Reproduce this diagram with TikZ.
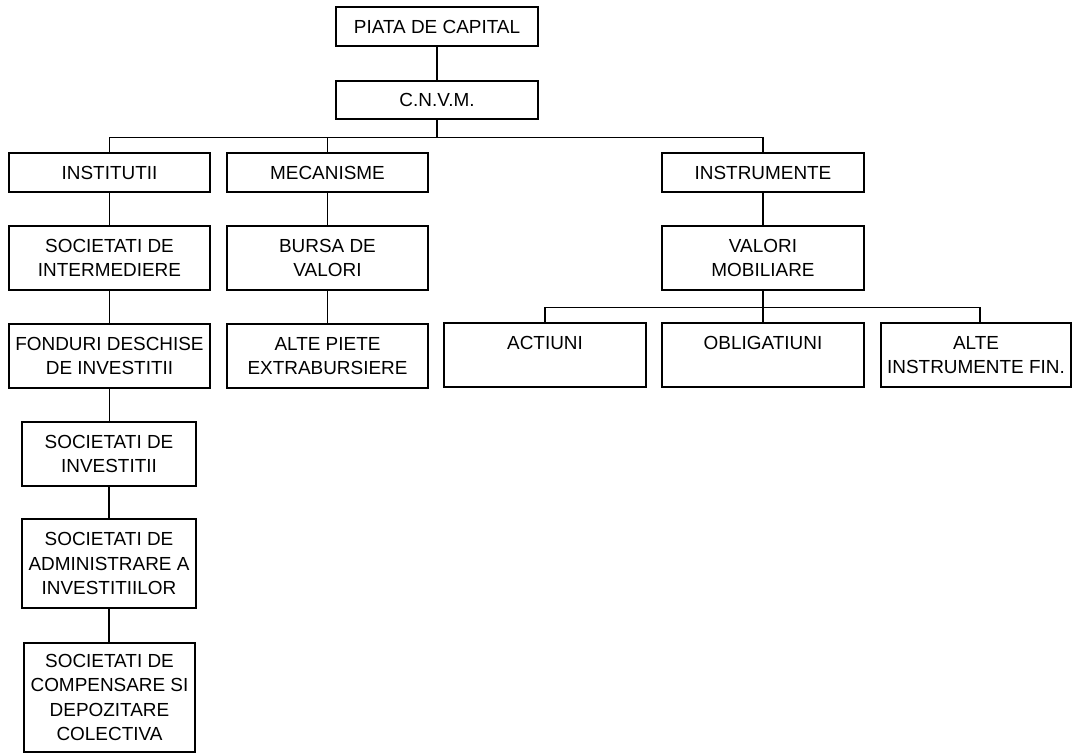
\documentclass[tikz,border=0pt]{standalone}
\usepackage{fontspec}
\setmainfont{Liberation Sans}
\begin{document}
\begin{tikzpicture}[x=0.75pt,y=-0.75pt,
  box/.style 2 args={draw, line width=0.9pt, inner sep=0pt, align=center,
    minimum width=#1*0.75pt, minimum height=#2*0.75pt,
    font=\fontsize{14.2}{18.4}\selectfont},
  link/.style={line width=0.9pt}]
\useasboundingbox (0,0) rectangle (1072,753);

% top of the hierarchy
\node[box={202}{39}] (piata) at (437,26.5) {PIATA DE CAPITAL};
\node[box={202}{38}] (cnvm)  at (437,100)  {C.N.V.M.};

% first level
\node[box={201}{39}] (inst)  at (109.5,172.5) {INSTITUTII};
\node[box={201}{39}] (mec)   at (327.5,172.5) {MECANISME};
\node[box={202}{39}] (instr) at (763,172.5)   {INSTRUMENTE};

% institutions column
\node[box={201}{64}] (socint) at (109.5,258) {SOCIETATI DE\\INTERMEDIERE};
\node[box={201}{64}] (fond)   at (109.5,356) {FONDURI DESCHISE\\DE INVESTITII};
\node[box={174}{64}] (socinv) at (109,454)   {SOCIETATI DE\\INVESTITII};
\node[box={174}{89}] (admin)  at (109,563.5) {SOCIETATI DE\\ADMINISTRARE A\\INVESTITIILOR};
\node[box={171}{109}] (comp)  at (109.5,697.5) {SOCIETATI DE\\COMPENSARE SI\\DEPOZITARE\\COLECTIVA};

% mechanisms column
\node[box={201}{64}] (bursa) at (327.5,258) {BURSA DE\\VALORI};
\node[box={201}{64}] (altep) at (327.5,356) {ALTE PIETE\\EXTRABURSIERE};

% instruments branch
\node[box={202}{64}] (valori)  at (763,258) {VALORI\\MOBILIARE};
\node[box={202}{64}] (actiuni) at (545,355) {ACTIUNI\\\mbox{}};
\node[box={202}{64}] (oblig)   at (763,355) {OBLIGATIUNI\\\mbox{}};
\node[box={190}{64}] (alte)    at (976,355) {ALTE\\INSTRUMENTE FIN.};

% connectors
\draw[link] (piata) -- (cnvm);
\draw[link] (cnvm.south) -- ++(0,18) -| (inst.north);
\draw[link] (cnvm.south) -- ++(0,18) -| (mec.north);
\draw[link] (cnvm.south) -- ++(0,18) -| (instr.north);

\draw[link] (inst) -- (socint);
\draw[link] (socint) -- (fond);
\draw[link] (fond.south) -- (socinv.north -| fond.south);
\draw[link] (socinv) -- (admin);
\draw[link] (admin.south) -- (comp.north -| admin.south);

\draw[link] (mec) -- (bursa);
\draw[link] (bursa) -- (altep);

\draw[link] (instr) -- (valori);
\draw[link] (valori.south) -- ++(0,17) -| (actiuni.north);
\draw[link] (valori.south) -- (oblig.north);
\draw[link] (valori.south) -- ++(0,17) -| ([xshift=3pt]alte.north);
\end{tikzpicture}
\end{document}
